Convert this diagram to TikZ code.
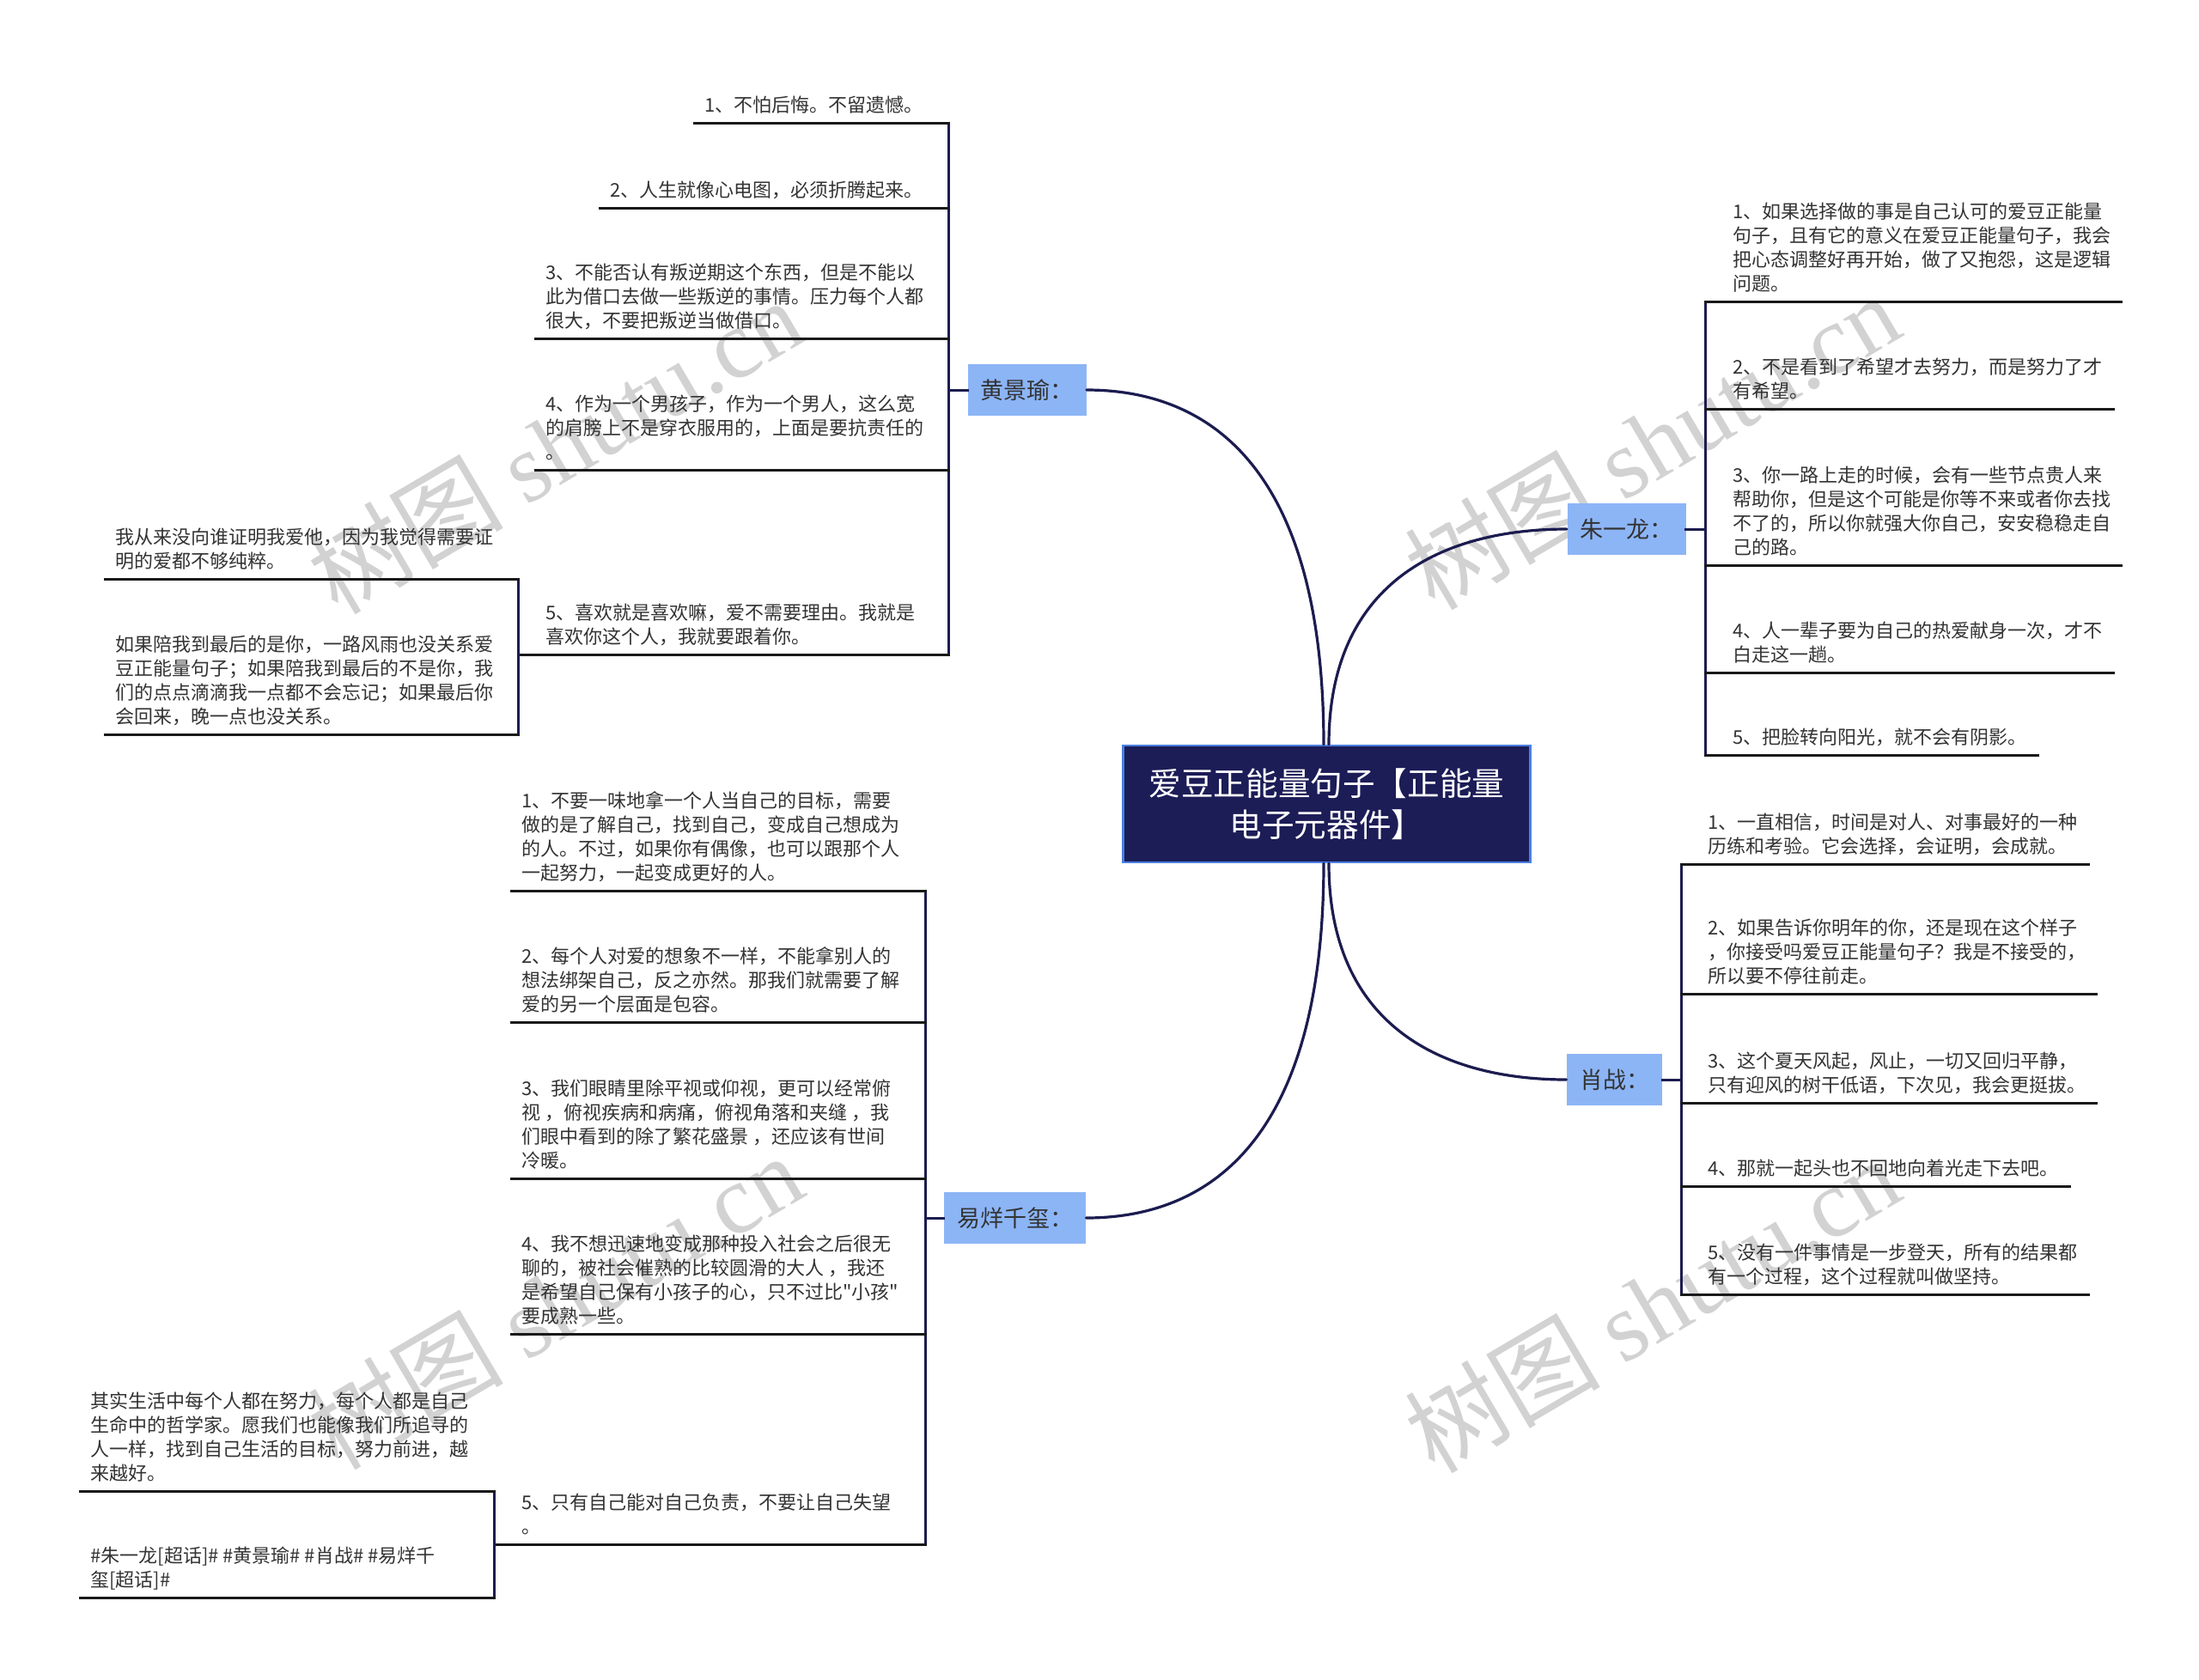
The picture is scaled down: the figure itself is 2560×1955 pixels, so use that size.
\documentclass[tikz,border=0pt]{standalone}
\usepackage{fontspec}
\newfontfamily\cjk{Noto Sans CJK SC}
\newfontfamily\wmserif{Liberation Serif}
\definecolor{rootfill}{HTML}{1C1C57}
\definecolor{rootedge}{HTML}{4A7FE0}
\definecolor{topicfill}{HTML}{8CB5F6}
\definecolor{edgenavy}{HTML}{1C1C50}
\definecolor{leaftext}{HTML}{333333}
\newcommand\leaffont{\cjk\fontsize{11}{14}\selectfont}

\begin{document}
\begin{tikzpicture}[x=0.5pt,y=-0.5pt]
\tikzset{
  rootnode/.style={fill=rootfill,draw=rootedge,line width=1.2pt,text=white,align=center,minimum width=237pt,minimum height=68pt,inner sep=0pt,font=\cjk\fontsize{18.8}{24}\selectfont},
  topicnode/.style={fill=topicfill,text=black!80,minimum height=30pt,inner xsep=7.5pt,font=\cjk\fontsize{13.5}{16}\selectfont},
  leafnode/.style={anchor=south west,align=left,inner xsep=6pt,inner ysep=5pt,text depth=1pt,text=leaftext,font=\leaffont},
  wmnode/.style={text=gray!35,rotate=30.5,inner sep=0pt,font=\cjk\fontsize{57}{57}\selectfont},
  branchedge/.style={draw=edgenavy,line width=1.6pt,line cap=round},
  treeedge/.style={draw=edgenavy,line width=1.5pt,line cap=rect},
  leafline/.style={draw=black!90,line width=1.5pt,line cap=rect}
}
\fill[white] (0,0) rectangle (2560,1955);
\useasboundingbox (0,0) rectangle (2560,1955);
% watermarks
\node[wmnode] (n_wm1) at (646,519) {树图 {\wmserif shutu.cn}};
\node[wmnode] (n_wm2) at (1923,514) {树图 {\wmserif shutu.cn}};
\node[wmnode] (n_wm3) at (646,1515) {树图 {\wmserif shutu.cn}};
\node[wmnode] (n_wm4) at (1923,1519) {树图 {\wmserif shutu.cn}};
% root and topics
\node[rootnode] (n_c) at (1544.5,936) {爱豆正能量句子【正能量\\电子元器件】};
\node[topicnode] (n_h) at (1195.5,454) {黄景瑜：};
\node[topicnode] (n_y) at (1181.5,1418) {易烊千玺：};
\node[topicnode] (n_z) at (1893.5,616) {朱一龙：};
\node[topicnode] (n_x) at (1879.5,1257) {肖战：};
\coordinate (v_h) at (1104,454);
\coordinate (v_hs) at (603,762);
\coordinate (v_y) at (1077,1418);
\coordinate (v_ys) at (575,1798);
\coordinate (v_z) at (1985,616);
\coordinate (v_x) at (1957,1257);
% 黄景瑜
\node[leafnode] (n_h1) at (808,143) {1、不怕后悔。不留遗憾。};
\node[leafnode] (n_h2) at (698,242) {2、人生就像心电图，必须折腾起来。};
\node[leafnode] (n_h3) at (623,394) {3、不能否认有叛逆期这个东西，但是不能以\\此为借口去做一些叛逆的事情。压力每个人都\\很大，不要把叛逆当做借口。};
\node[leafnode] (n_h4) at (623,547) {4、作为一个男孩子，作为一个男人，这么宽\\的肩膀上不是穿衣服用的，上面是要抗责任的\\。};
\node[leafnode] (n_h5) at (623,762) {5、喜欢就是喜欢嘛，爱不需要理由。我就是\\喜欢你这个人，我就要跟着你。};
\node[leafnode] (n_hc1) at (122,674) {我从来没向谁证明我爱他，因为我觉得需要证\\明的爱都不够纯粹。};
\node[leafnode] (n_hc2) at (122,855) {如果陪我到最后的是你，一路风雨也没关系爱\\豆正能量句子；如果陪我到最后的不是你，我\\们的点点滴滴我一点都不会忘记；如果最后你\\会回来，晚一点也没关系。};
% 易烊千玺
\node[leafnode] (n_y1) at (595,1037) {1、不要一味地拿一个人当自己的目标，需要\\做的是了解自己，找到自己，变成自己想成为\\的人。不过，如果你有偶像，也可以跟那个人\\一起努力，一起变成更好的人。};
\node[leafnode] (n_y2) at (595,1190) {2、每个人对爱的想象不一样，不能拿别人的\\想法绑架自己，反之亦然。那我们就需要了解\\爱的另一个层面是包容。};
\node[leafnode] (n_y3) at (595,1372) {3、我们眼睛里除平视或仰视，更可以经常俯\\视 ，俯视疾病和病痛，俯视角落和夹缝 ，我\\们眼中看到的除了繁花盛景 ，还应该有世间\\冷暖。};
\node[leafnode] (n_y4) at (595,1553) {4、我不想迅速地变成那种投入社会之后很无\\聊的，被社会催熟的比较圆滑的大人 ，我还\\是希望自己保有小孩子的心，只不过比"小孩"\\要成熟一些。};
\node[leafnode] (n_y5) at (595,1798) {5、只有自己能对自己负责，不要让自己失望\\。};
\node[leafnode] (n_yc1) at (93,1736) {其实生活中每个人都在努力，每个人都是自己\\生命中的哲学家。愿我们也能像我们所追寻的\\人一样，找到自己生活的目标，努力前进，越\\来越好。};
\node[leafnode] (n_yc2) at (93,1860) {\#朱一龙[超话]\# \#黄景瑜\# \#肖战\# \#易烊千\\玺[超话]\#};
% 朱一龙
\node[leafnode] (n_z1) at (2005,351) {1、如果选择做的事是自己认可的爱豆正能量\\句子，且有它的意义在爱豆正能量句子，我会\\把心态调整好再开始，做了又抱怨，这是逻辑\\问题。};
\node[leafnode] (n_z2) at (2005,476) {2、不是看到了希望才去努力，而是努力了才\\有希望。};
\node[leafnode] (n_z3) at (2005,658) {3、你一路上走的时候，会有一些节点贵人来\\帮助你，但是这个可能是你等不来或者你去找\\不了的，所以你就强大你自己，安安稳稳走自\\己的路。};
\node[leafnode] (n_z4) at (2005,783) {4、人一辈子要为自己的热爱献身一次，才不\\白走这一趟。};
\node[leafnode] (n_z5) at (2005,879) {5、把脸转向阳光，就不会有阴影。};
% 肖战
\node[leafnode] (n_x1) at (1976,1006) {1、一直相信，时间是对人、对事最好的一种\\历练和考验。它会选择，会证明，会成就。};
\node[leafnode] (n_x2) at (1976,1157) {2、如果告诉你明年的你，还是现在这个样子\\，你接受吗爱豆正能量句子？我是不接受的，\\所以要不停往前走。};
\node[leafnode] (n_x3) at (1976,1284) {3、这个夏天风起，风止，一切又回归平静，\\只有迎风的树干低语，下次见，我会更挺拔。};
\node[leafnode] (n_x4) at (1976,1381) {4、那就一起头也不回地向着光走下去吧。};
\node[leafnode] (n_x5) at (1976,1507) {5、没有一件事情是一步登天，所有的结果都\\有一个过程，这个过程就叫做坚持。};
% root to topics
\draw[branchedge] ([xshift=-1.75pt]n_c.north) .. controls +(0,-307) and +(155,0) .. (n_h.east);
\draw[branchedge] ([xshift=1.25pt]n_c.north) .. controls +(0,-185) and +(-150,0) .. (n_z.west);
\draw[branchedge] ([xshift=-1.75pt]n_c.south) .. controls +(0,307) and +(155,0) .. (n_y.east);
\draw[branchedge] ([xshift=1.25pt]n_c.south) .. controls +(0,185) and +(-150,0) .. (n_x.west);
% 黄景瑜 tree
\draw[treeedge] (n_h.west) -- (n_h.west -| v_h);
\draw[treeedge] (n_h1.south west -| v_h) -- (n_h5.south west -| v_h);
\draw[leafline] (n_h1.south west) -- (n_h1.south west -| v_h);
\draw[leafline] (n_h2.south west) -- (n_h2.south west -| v_h);
\draw[leafline] (n_h3.south west) -- (n_h3.south west -| v_h);
\draw[leafline] (n_h4.south west) -- (n_h4.south west -| v_h);
\draw[leafline] (n_h5.south west -| v_hs) -- (n_h5.south west -| v_h);
\draw[treeedge] (n_hc1.south west -| v_hs) -- (n_hc2.south west -| v_hs);
\draw[leafline] (n_hc1.south west) -- (n_hc1.south west -| v_hs);
\draw[leafline] (n_hc2.south west) -- (n_hc2.south west -| v_hs);
% 易烊千玺 tree
\draw[treeedge] (n_y.west) -- (n_y.west -| v_y);
\draw[treeedge] (n_y1.south west -| v_y) -- (n_y5.south west -| v_y);
\draw[leafline] (n_y1.south west) -- (n_y1.south west -| v_y);
\draw[leafline] (n_y2.south west) -- (n_y2.south west -| v_y);
\draw[leafline] (n_y3.south west) -- (n_y3.south west -| v_y);
\draw[leafline] (n_y4.south west) -- (n_y4.south west -| v_y);
\draw[leafline] (n_y5.south west -| v_ys) -- (n_y5.south west -| v_y);
\draw[treeedge] (n_yc1.south west -| v_ys) -- (n_yc2.south west -| v_ys);
\draw[leafline] (n_yc1.south west) -- (n_yc1.south west -| v_ys);
\draw[leafline] (n_yc2.south west) -- (n_yc2.south west -| v_ys);
% 朱一龙 tree
\draw[treeedge] (n_z.east) -- (n_z.east -| v_z);
\draw[treeedge] (n_z1.south west -| v_z) -- (n_z5.south west -| v_z);
\draw[leafline] (n_z1.south west -| v_z) -- (n_z1.south east);
\draw[leafline] (n_z2.south west -| v_z) -- (n_z2.south east);
\draw[leafline] (n_z3.south west -| v_z) -- (n_z3.south east);
\draw[leafline] (n_z4.south west -| v_z) -- (n_z4.south east);
\draw[leafline] (n_z5.south west -| v_z) -- (n_z5.south east);
% 肖战 tree
\draw[treeedge] (n_x.east) -- (n_x.east -| v_x);
\draw[treeedge] (n_x1.south west -| v_x) -- (n_x5.south west -| v_x);
\draw[leafline] (n_x1.south west -| v_x) -- (n_x1.south east);
\draw[leafline] (n_x2.south west -| v_x) -- (n_x2.south east);
\draw[leafline] (n_x3.south west -| v_x) -- (n_x3.south east);
\draw[leafline] (n_x4.south west -| v_x) -- (n_x4.south east);
\draw[leafline] (n_x5.south west -| v_x) -- (n_x5.south east);
\end{tikzpicture}
\end{document}
